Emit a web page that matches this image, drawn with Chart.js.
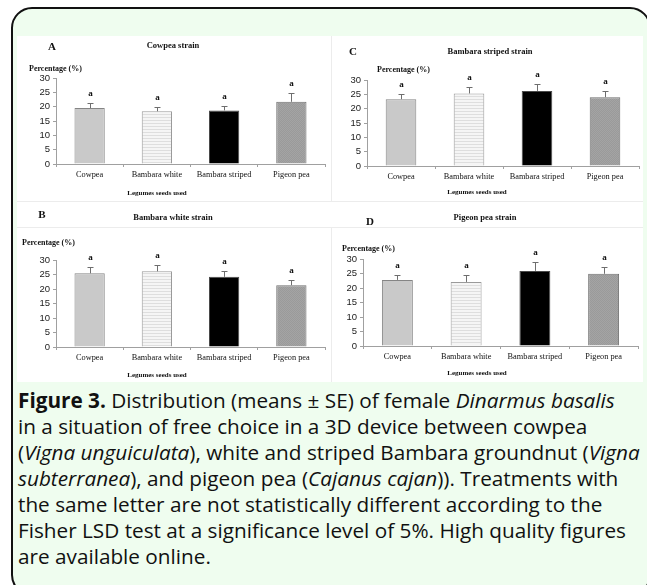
<!DOCTYPE html>
<html lang="en">
<head>
<meta charset="UTF-8">
<script src="https://cdn.jsdelivr.net/npm/chart.js"></script>
<title>Figure 3</title>
<style>
  body { margin: 0; width: 647px; height: 585px; overflow: hidden; position: relative; background: #fff; }
  #box { position: absolute; left: 11px; top: 7px; width: 640px; height: 589px; box-sizing: border-box;
         border: 2px solid #111; border-radius: 21px; background: #effdef; }
  #fig { position: absolute; left: 17px; top: 36px; width: 626px; height: 346px; background: #fff; }
  .line { position: absolute; background: #ececec; }
  canvas { position: absolute; display: block; }
  #caption { position: absolute; left: 18px; top: 387px; font-family: "Open Sans", sans-serif; font-size: 20px;
             line-height: 26px; color: #111; white-space: nowrap; }
  #caption div { width: max-content; }
  #caption b { font-weight: bold; }
</style>
</head>
<body>
<div id="box"></div>
<div id="fig"></div>
<div class="line" style="left:17px;top:201px;width:626px;height:1px"></div>
<div class="line" style="left:17px;top:227px;width:626px;height:1px"></div>
<div class="line" style="left:331px;top:36px;width:1px;height:165px"></div>
<div class="line" style="left:331px;top:227px;width:1px;height:155px"></div>

<canvas id="panelA" width="314" height="165" style="left:17px;top:36px"></canvas>
<canvas id="panelC" width="312" height="165" style="left:331px;top:36px"></canvas>
<canvas id="panelB" width="314" height="181" style="left:17px;top:201px"></canvas>
<canvas id="panelD" width="312" height="181" style="left:331px;top:201px"></canvas>

<div id="caption">
  <div><b>Figure 3.</b> Distribution (means ± SE) of female <i>Dinarmus basalis</i></div>
  <div>in a situation of free choice in a 3D device between cowpea</div>
  <div>(<i>Vigna unguiculata</i>), white and striped Bambara groundnut (<i>Vigna</i></div>
  <div><i>subterranea</i>), and pigeon pea (<i>Cajanus cajan</i>)). Treatments with</div>
  <div>the same letter are not statistically different according to the</div>
  <div>Fisher LSD test at a significance level of 5%. High quality figures</div>
  <div>are available online.</div>
</div>

<script>
// legumes offered to the females
const seeds = ['Cowpea', 'Bambara white', 'Bambara striped', 'Pigeon pea'];
const yTicks = [0, 5, 10, 15, 20, 25, 30];

// A - cowpea strain
const cowpeaMean = [19.5, 18.4, 18.7, 21.7];
const cowpeaSE = [1.8, 1.6, 1.6, 3.1];
const cowpeaLetters = ['a', 'a', 'a', 'a'];

// B - bambara white strain
const whiteMean = [25.4, 26.1, 24.2, 21.3];
const whiteSE = [2.1, 2.2, 2.0, 1.7];
const whiteLetters = ['a', 'a', 'a', 'a'];

// C - bambara striped strain
const stripedMean = [23.3, 25.3, 26.2, 24.0];
const stripedSE = [1.8, 2.1, 2.3, 2.0];
const stripedLetters = ['a', 'a', 'a', 'a'];

// D - pigeon pea strain
const pigeonMean = [22.8, 22.1, 25.9, 24.9];
const pigeonSE = [1.7, 2.3, 3.0, 2.2];
const pigeonLetters = ['a', 'a', 'a', 'a'];

// size the caption font so its widest line fills the box like the original
const cap = document.getElementById('caption');
let widest = 0;
for (const d of cap.children) widest = Math.max(widest, d.getBoundingClientRect().width);
cap.style.fontSize = (20 * 622 / widest) + 'px';

function makePattern(w, h, draw) {
    const c = document.createElement('canvas');
    c.width = w; c.height = h;
    draw(c.getContext('2d'));
    return c.getContext('2d').createPattern(c, 'repeat');
}

const stripes = makePattern(1, 3, g => {
    g.fillStyle = '#f5f5f5'; g.fillRect(0, 0, 1, 3);
    g.fillStyle = '#dedede'; g.fillRect(0, 0, 1, 1);
});
const dots = makePattern(2, 2, g => {
    g.fillStyle = '#a4a4a4'; g.fillRect(0, 0, 2, 2);
    g.fillStyle = '#9a9a9a'; g.fillRect(0, 0, 1, 1); g.fillRect(1, 1, 1, 1);
});

const barFill = ['#c9c9c9', stripes, '#000000', dots];
const barBorder = ['#858585', '#9a9a9a', '#4a4a4a', '#6f6f6f'];

const serif = '"Liberation Serif", "Times New Roman", serif';

// error bars, letters and the panel texts
const decor = {
    id: 'decor',
    afterDatasetsDraw(chart, args, o) {
        const ctx = chart.ctx;
        const y = chart.scales.y;
        const meta = chart.getDatasetMeta(0);
        ctx.save();
        o.means.forEach((m, i) => {
            const cx = Math.round(meta.data[i].x) + 0.5;
            const top = Math.round(y.getPixelForValue(m + o.se[i])) + 0.5;
            const base = y.getPixelForValue(m);
            ctx.strokeStyle = '#6e6e6e';
            ctx.lineWidth = 1;
            ctx.beginPath();
            ctx.moveTo(cx, base);
            ctx.lineTo(cx, top);
            ctx.moveTo(cx - 3, top);
            ctx.lineTo(cx + 3, top);
            ctx.stroke();
            ctx.fillStyle = '#111';
            ctx.font = 'bold 9px ' + serif;
            ctx.textAlign = 'center';
            ctx.textBaseline = 'alphabetic';
            ctx.fillText(o.letters[i], cx, top - 8);
        });

        ctx.fillStyle = '#111';
        ctx.textBaseline = 'middle';
        ctx.textAlign = 'center';
        ctx.font = 'bold 11px ' + serif;
        ctx.fillText(o.letter, o.letterPos[0], o.letterPos[1]);
        ctx.font = 'bold 8.5px ' + serif;
        ctx.fillText(o.title, o.titlePos[0], o.titlePos[1]);
        ctx.font = 'bold 7px ' + serif;
        ctx.fillText('Legumes seeds used', o.xTitlePos[0], o.xTitlePos[1]);
        ctx.textAlign = 'left';
        ctx.font = 'bold 8px ' + serif;
        ctx.fillText('Percentage (%)', o.yTitlePos[0], o.yTitlePos[1]);
        ctx.restore();
    }
};

function drawPanel(id, means, se, letters, p) {
    const canvas = document.getElementById(id);
    const W = canvas.width, H = canvas.height;
    new Chart(canvas.getContext('2d'), {
        type: 'bar',
        data: {
            labels: seeds,
            datasets: [{
                data: means,
                backgroundColor: barFill,
                borderColor: barBorder,
                borderWidth: 1,
                borderSkipped: 'bottom',
                categoryPercentage: 0.5,
                barPercentage: 0.9
            }]
        },
        options: {
            responsive: false,
            animation: false,
            devicePixelRatio: 1,
            layout: { padding: { left: 0, top: p.area[1], right: W - p.area[2], bottom: 0 } },
            plugins: {
                legend: { display: false },
                tooltip: { enabled: false },
                decor: {
                    means: means, se: se, letters: letters,
                    letter: p.letter, letterPos: p.letterPos,
                    title: p.title, titlePos: p.titlePos,
                    yTitlePos: p.yTitlePos, xTitlePos: p.xTitlePos
                }
            },
            scales: {
                x: {
                    grid: { display: true, drawOnChartArea: false, drawTicks: true, tickLength: 3, color: '#a0a0a0' },
                    border: { display: true, color: '#a0a0a0', width: 1 },
                    ticks: { color: '#111', padding: 3, autoSkip: false, font: { family: serif, size: 8.3 }, maxRotation: 0 },
                    afterFit: s => { s.height = H - p.area[3]; }
                },
                y: {
                    min: 0, max: 30,
                    afterBuildTicks: s => { s.ticks = yTicks.map(v => ({ value: v })); },
                    grid: { display: true, drawOnChartArea: false, drawTicks: true, tickLength: 3, color: '#a0a0a0' },
                    border: { display: true, color: '#a0a0a0', width: 1 },
                    ticks: { color: '#222', padding: 3, autoSkip: false, font: { family: '"Liberation Sans", Arial, sans-serif', size: 9.5 } },
                    afterFit: s => { s.width = p.area[0]; }
                }
            }
        },
        plugins: [decor]
    });
}

drawPanel('panelA', cowpeaMean, cowpeaSE, cowpeaLetters, {
    area: [39, 42, 308, 128], letter: 'A', letterPos: [35, 11],
    title: 'Cowpea strain', titlePos: [156, 10], yTitlePos: [12, 33], xTitlePos: [140, 157]
});
drawPanel('panelC', stripedMean, stripedSE, stripedLetters, {
    area: [36, 44, 308, 130], letter: 'C', letterPos: [22, 16],
    title: 'Bambara striped strain', titlePos: [159, 16], yTitlePos: [46, 34], xTitlePos: [146, 156]
});
drawPanel('panelB', whiteMean, whiteSE, whiteLetters, {
    area: [39, 59, 308, 146], letter: 'B', letterPos: [25, 14],
    title: 'Bambara white strain', titlePos: [156, 17], yTitlePos: [5, 42], xTitlePos: [140, 174]
});
drawPanel('panelD', pigeonMean, pigeonSE, pigeonLetters, {
    area: [32, 58, 307, 145], letter: 'D', letterPos: [39, 21],
    title: 'Pigeon pea strain', titlePos: [154, 17], yTitlePos: [11, 48], xTitlePos: [146, 172]
});
</script>
</body>
</html>
